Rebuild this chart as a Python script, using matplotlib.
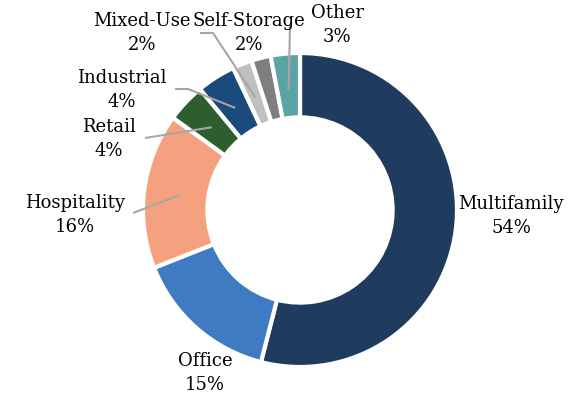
import matplotlib.pyplot as plt
import numpy as np

categories = ["Multifamily", "Office", "Hospitality", "Retail", "Industrial",
              "Mixed-Use", "Self-Storage", "Other"]
shares = [54, 15, 16, 4, 4, 2, 2, 3]
colors = ["#1F3B5E", "#3F7BC2", "#F5A07F", "#2F5E2E", "#1B4B7C",
          "#C0C0C0", "#7F7F7F", "#5BA4A5"]

plt.rcParams['font.family'] = ['DejaVu Serif']

W, H = 576, 401
fig = plt.figure(figsize=(W / 100, H / 100), dpi=100)
ax = fig.add_axes([0, 0, 1, 1])

cx, cy, R = 300, H - 210, 157
wedges, _ = ax.pie(shares, colors=colors, startangle=90, counterclock=False,
                   center=(cx, cy), radius=R, frame=True,
                   wedgeprops=dict(width=R * 0.41, edgecolor='white', linewidth=3))
ax.set_xlim(0, W)
ax.set_ylim(0, H)
ax.set_aspect('equal')
ax.axis('off')

# label placement (pixel coords from top-left) and leader line start
labels = {
    "Multifamily": ((511, 216), None),
    "Office": ((205, 373), None),
    "Hospitality": ((75, 215), [(133, 213)]),
    "Retail": ((109, 139), [(145, 138)]),
    "Industrial": ((122, 90), [(175, 89), (188, 89)]),
    "Mixed-Use": ((142, 33), [(200, 33), (213, 33)]),
    "Self-Storage": ((249, 33), None),
    "Other": ((337, 25), [(290, 25)]),
}

for w, name, val in zip(wedges, categories, shares):
    (tx, ty), lead = labels[name]
    ax.text(tx, H - ty, f"{name}\n{val}%", ha='center', va='center',
            fontsize=13, color='black', linespacing=1.4)
    if lead:
        mid = np.deg2rad((w.theta1 + w.theta2) / 2)
        end = (cx + 0.77 * R * np.cos(mid), cy + 0.77 * R * np.sin(mid))
        xs = [p[0] for p in lead] + [end[0]]
        ys = [H - p[1] for p in lead] + [end[1]]
        ax.plot(xs, ys, color='#A6A6A6', lw=1.5, solid_capstyle='butt')

fig.savefig("out.png", dpi=100)
